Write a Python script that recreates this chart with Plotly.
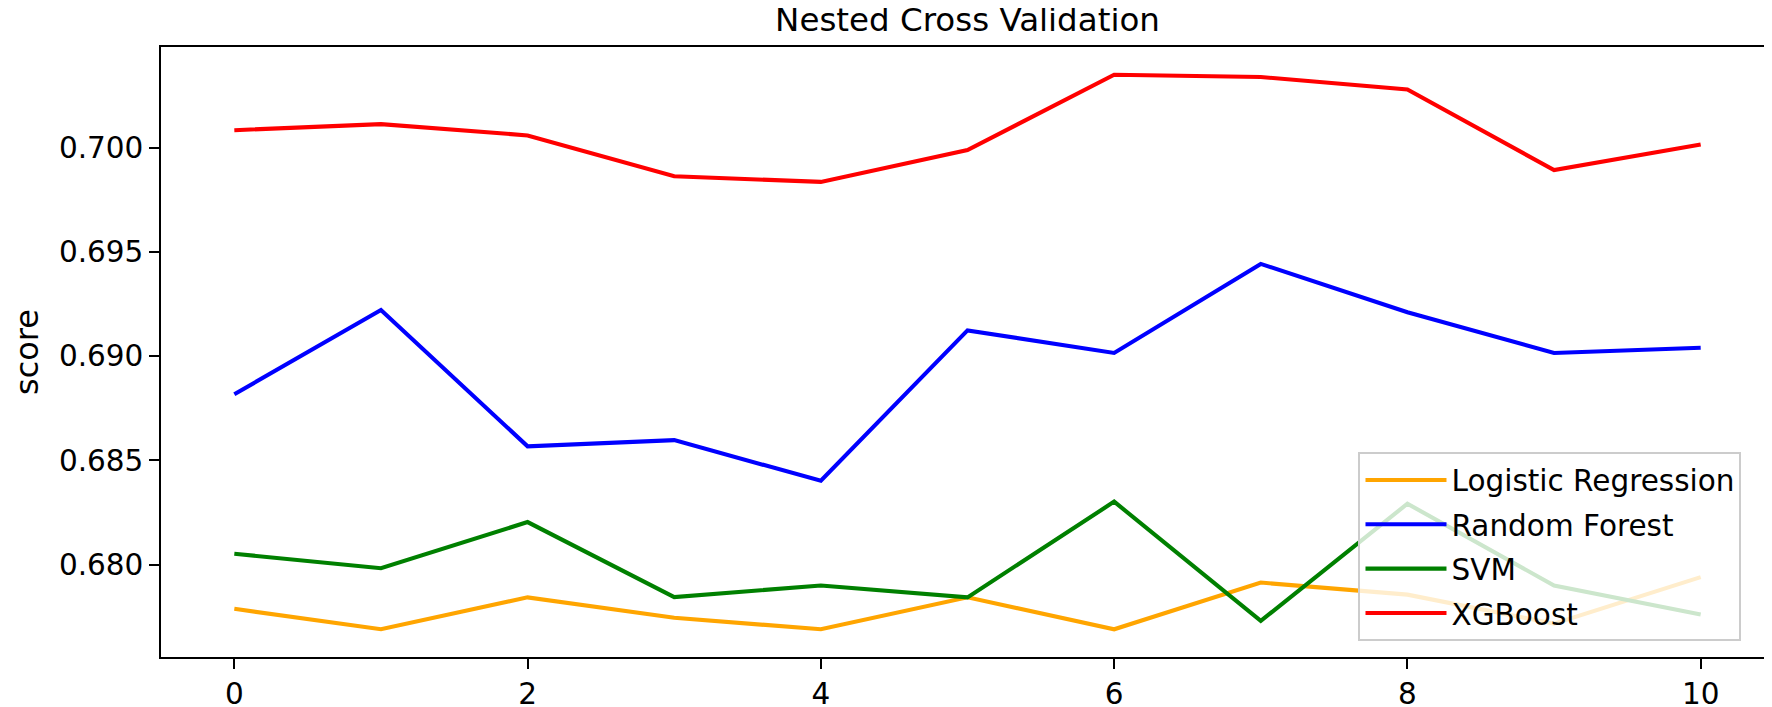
import plotly.graph_objects as go

folds = list(range(11))
logistic_regression = [0.67788, 0.67690, 0.67843, 0.67745, 0.67690, 0.67843, 0.67690, 0.67914, 0.67856, 0.67717, 0.67940]
random_forest = [0.68817, 0.69221, 0.68567, 0.68597, 0.68402, 0.69123, 0.69015, 0.69442, 0.69210, 0.69015, 0.69040]
svm = [0.68052, 0.67983, 0.68204, 0.67844, 0.67900, 0.67843, 0.68302, 0.67730, 0.68292, 0.67900, 0.67761]
xgboost = [0.70083, 0.70112, 0.70058, 0.69862, 0.69835, 0.69988, 0.70349, 0.70338, 0.70278, 0.69892, 0.70014]

series_names = ["Logistic Regression", "Random Forest", "SVM", "XGBoost"]
series_values = [logistic_regression, random_forest, svm, xgboost]
series_colors = ["#FFA500", "#0000FF", "#008000", "#FF0000"]

x_ticks = [0, 2, 4, 6, 8, 10]
y_ticks = [0.680, 0.685, 0.690, 0.695, 0.700]

FONT = "DejaVu Sans"
TICK_SIZE = 29.5

fig = go.Figure()
for name, vals, col in zip(series_names, series_values, series_colors):
    fig.add_trace(go.Scatter(
        x=folds, y=vals, mode="lines", name=name, legendgroup=name,
        line=dict(color=col, width=4.1),
    ))

all_vals = [v for s in series_values for v in s]
ymin, ymax = min(all_vals), max(all_vals)
pad = 0.05 * (ymax - ymin)

axis_common = dict(
    showline=True, linecolor="black", linewidth=2.2, mirror=True,
    ticks="outside", ticklen=9.6, tickwidth=2.2, tickcolor="black",
    showgrid=False, zeroline=False,
    tickfont=dict(family=FONT, size=TICK_SIZE, color="black"),
)

fig.update_layout(
    width=1772, height=707,
    margin=dict(l=153, r=4, t=39, b=47),
    paper_bgcolor="white", plot_bgcolor="white",
    font=dict(family=FONT, color="black"),
    title=dict(text="Nested Cross Validation", x=0.5, xref="paper",
               y=1 - 12 / 707, yref="container", yanchor="middle", xanchor="center",
               font=dict(family=FONT, size=32.5, color="black")),
    xaxis=dict(range=[-0.5, 10.5], tickvals=x_ticks, **axis_common),
    yaxis=dict(range=[ymin - pad, ymax + pad], tickvals=y_ticks, tickformat=".3f",
               title=dict(text="score", font=dict(family=FONT, size=32, color="black"), standoff=23),
               **axis_common),
    legend=dict(
        x=0.7424, y=0.0258, xanchor="left", yanchor="bottom",
        bgcolor="rgba(255,255,255,0.8)", bordercolor="#cccccc", borderwidth=2,
        font=dict(family=FONT, size=TICK_SIZE, color="black"),
        traceorder="grouped", tracegroupgap=3, itemwidth=81,
    ),
    showlegend=True,
)

fig.write_html("out.html")
